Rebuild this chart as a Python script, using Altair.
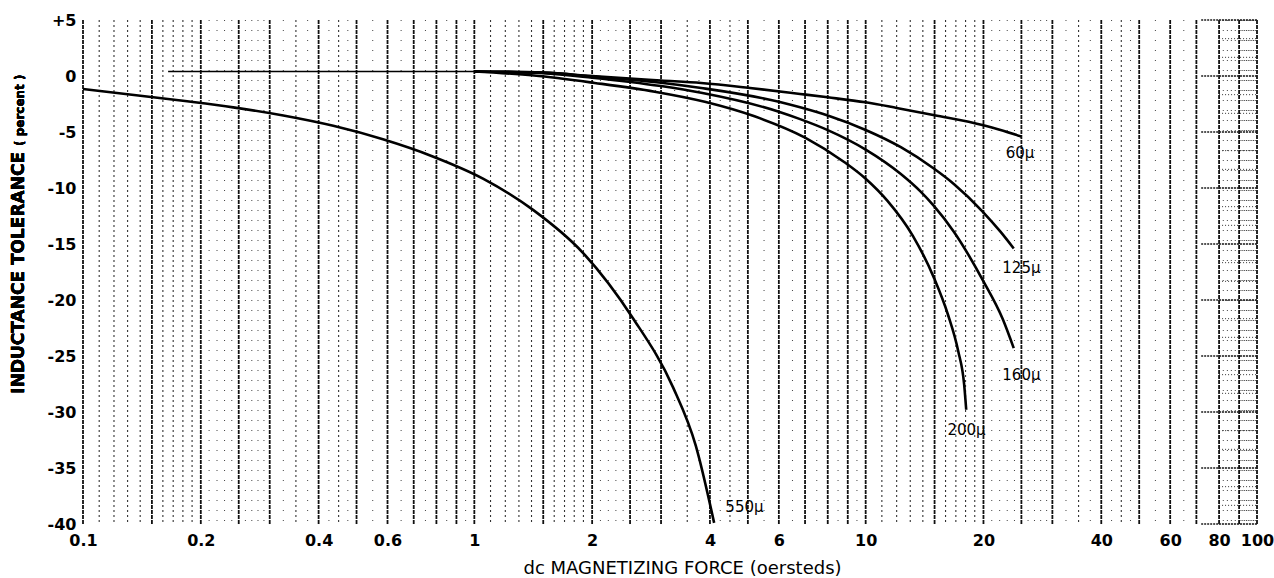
import altair as alt
import pandas as pd

FONT = "DejaVu Sans"

# ---------------- data ----------------
X_TICKS = [0.1, 0.2, 0.4, 0.6, 1, 2, 4, 6, 10, 20, 40, 60, 80, 100]
Y_TICKS = [5, 0, -5, -10, -15, -20, -25, -30, -35, -40]

# common flat start of the low-permeability curves
common_x = [0.165, 0.5, 1.0]
common_y = [0.4, 0.4, 0.4]

c60_x = [1.0, 1.5, 2.0, 3.0, 3.8, 5.0, 6.8, 8.0, 10, 12, 15, 20, 22, 25]
c60_y = [0.4, 0.3, 0.0, -0.4, -0.63, -1.05, -1.6, -1.9, -2.35, -2.85, -3.5, -4.4, -4.8, -5.4]

c125_x = [1.0, 1.5, 2.0, 3.0, 3.8, 6.0, 6.8, 8.0, 10, 12.3, 14.9, 16.8, 19.9, 22.1, 23.9]
c125_y = [0.4, 0.3, -0.05, -0.6, -1.07, -2.3, -2.8, -3.53, -4.82, -6.36, -8.24, -9.64, -12.1, -13.9, -15.4]

c160_x = [1.0, 1.5, 2.0, 3.0, 3.8, 6.0, 6.8, 8.0, 10, 12.3, 13.8, 14.9, 16.8, 19.9, 22.4, 23.9]
c160_y = [0.4, 0.25, -0.15, -0.9, -1.5, -3.19, -3.85, -4.83, -6.57, -8.75, -10.3, -11.55, -13.9, -18.2, -21.7, -24.3]

c200_x = [1.0, 1.42, 2.03, 2.89, 3.88, 5.2, 7.0, 8.83, 10, 11.37, 13.2, 14.96, 16.24, 17.23, 17.85, 18.07]
c200_y = [0.4, 0.04, -0.62, -1.4, -2.3, -3.6, -5.5, -7.7, -9.17, -11.15, -14.27, -18.05, -21.34, -24.54, -27.54, -29.8]

c550_x = [0.1, 0.18, 0.242, 0.325, 0.436, 0.584, 0.783, 1.055, 1.41, 1.90, 2.54, 3.22, 3.68, 4.1]
c550_y = [-1.16, -2.21, -2.80, -3.53, -4.45, -5.65, -7.18, -9.18, -11.93, -15.83, -21.6, -27.8, -33.0, -39.9]

label_text = ["60\u03bc", "125\u03bc", "160\u03bc", "200\u03bc", "550\u03bc"]
label_x = [24.8, 25.0, 25.0, 18.1, 4.9]
label_y = [-6.9, -17.1, -26.7, -31.6, -38.5]

# graph-paper rulings (multiples within each decade)
heavy_mult = [1, 1.5, 2, 2.5, 3, 4, 5, 6, 7, 8, 9]
medium_mult = [1.1, 1.2, 1.3, 1.4, 1.6, 1.7, 1.8, 1.9, 3.5, 4.5]
faint_mult = [2.1, 2.2, 2.3, 2.4, 2.6, 2.7, 2.8, 2.9, 3.25, 3.75, 4.25, 4.75, 5.5, 6.5, 7.5, 8.5, 9.5]
decades = [0.1, 1, 10]
patch_heavy_x = [80, 90, 100]
patch_faint_x = [82, 84, 86, 88, 91, 92, 93, 94, 95, 96, 97, 98, 99]
patch_rows = [-40 + k * 5 / 3 for k in range(28)]

# ---------------- build tables ----------------
def grid_values(mults):
    vals = []
    for d in decades:
        for m in mults:
            v = round(d * m, 6)
            if 0.1 <= v <= 70:
                vals.append(v)
    return vals

heavy_df = pd.DataFrame({"v": grid_values(heavy_mult) + patch_heavy_x})
medium_df = pd.DataFrame({"v": grid_values(medium_mult)})
faint_df = pd.DataFrame({"v": grid_values(faint_mult) + patch_faint_x})
rows_df = pd.DataFrame({"y": patch_rows, "x1": 80, "x2": 100})
rows_heavy_df = pd.DataFrame({"y": [r for i, r in enumerate(patch_rows) if i % 3 == 0], "x1": 72, "x2": 100})

curves = []
for name, xs, ys in [("60", c60_x, c60_y), ("125", c125_x, c125_y), ("160", c160_x, c160_y),
                     ("200", c200_x, c200_y), ("550", c550_x, c550_y)]:
    for i, (a, b) in enumerate(zip(xs, ys)):
        curves.append({"series": name, "x": a, "y": b, "i": i})
curve_df = pd.DataFrame(curves)
common_df = pd.DataFrame({"x": common_x, "y": common_y})
label_df = pd.DataFrame({"t": label_text, "x": label_x, "y": label_y})

xscale = alt.Scale(type="log", domain=[0.1, 100], nice=False)
yscale = alt.Scale(domain=[-40, 5], nice=False, zero=False)

XAXIS = alt.Axis(values=X_TICKS, labelExpr="'' + datum.value", ticks=False, domain=False,
                 grid=False, labelFont=FONT, labelFontSize=16, labelFontWeight="bold",
                 labelColor="black", labelPadding=8, labelOverlap=False, labelBound=False,
                 labelFlush=False,
                 title="dc MAGNETIZING FORCE (oersteds)", titleFont=FONT, titleFontSize=18,
                 titleFontWeight="normal", titleColor="black", titleX=599, titleY=49,
                 titleBaseline="alphabetic", titleAlign="center")
YAXIS = alt.Axis(values=Y_TICKS, labelExpr="datum.value > 0 ? '+' + datum.value : '' + datum.value",
                 ticks=False, domain=False, grid=False, labelFont=FONT, labelFontSize=16,
                 labelFontWeight="bold", labelColor="black", labelPadding=7, title="",
                 labelOverlap=False, labelBound=False, labelFlush=False)


def X(field):
    return alt.X(field, scale=xscale, axis=XAXIS)


def Y(field):
    return alt.Y(field, scale=yscale, axis=YAXIS)


def rule_layer(df, dash, width, color):
    return alt.Chart(df).mark_rule(strokeDash=dash, strokeWidth=width, color=color).encode(
        x=X("v:Q")
    )

g_heavy = rule_layer(heavy_df, [4, 1], 1.8, "#111111")
g_medium = rule_layer(medium_df, [2, 3], 1.1, "#333333")
g_faint = rule_layer(faint_df, [1, 9], 1.0, "#444444")

rows = alt.Chart(rows_df).mark_rule(strokeDash=[1, 2], strokeWidth=1, color="#333333").encode(
    x=X("x1:Q"), x2="x2:Q", y=Y("y:Q")
)
rows_h = alt.Chart(rows_heavy_df).mark_rule(strokeDash=[2, 1], strokeWidth=1.4, color="#1c1c1c").encode(
    x=X("x1:Q"), x2="x2:Q", y=Y("y:Q")
)

common = alt.Chart(common_df).mark_line(color="black", strokeWidth=1.3).encode(
    x=X("x:Q"), y=Y("y:Q")
)

lines = alt.Chart(curve_df).mark_line(color="black", strokeWidth=2.6, interpolate="monotone").encode(
    x=X("x:Q"), y=Y("y:Q"), detail="series:N", order="i:Q"
)

labels = alt.Chart(label_df).mark_text(font=FONT, fontSize=15, color="black", align="center",
                                       baseline="middle").encode(
    x=X("x:Q"), y=Y("y:Q"), text="t:N"
)

ytitle_main = alt.Chart(label_df).mark_text(angle=270, align="right", baseline="alphabetic", font=FONT,
                                            fontSize=17, fontWeight="bold", color="black").encode(
    x=alt.value(-59), y=alt.value(132), text=alt.value("INDUCTANCE TOLERANCE")
)
ytitle_sub = alt.Chart(label_df).mark_text(angle=270, align="left", baseline="alphabetic", font=FONT,
                                           fontSize=12, fontWeight="bold", color="black").encode(
    x=alt.value(-59), y=alt.value(126), text=alt.value("( percent )")
)

chart = alt.layer(g_faint, g_medium, g_heavy, rows, rows_h, common, lines, labels,
                  ytitle_main, ytitle_sub).properties(
    width=1174, height=504,
    padding={"left": 83, "top": 20, "right": 17, "bottom": 54},
    autosize=alt.AutoSizeParams(type="none"),
    background="white",
).configure_view(stroke=None)

chart.save("out.html", embed_options={"renderer": "svg", "actions": False})
